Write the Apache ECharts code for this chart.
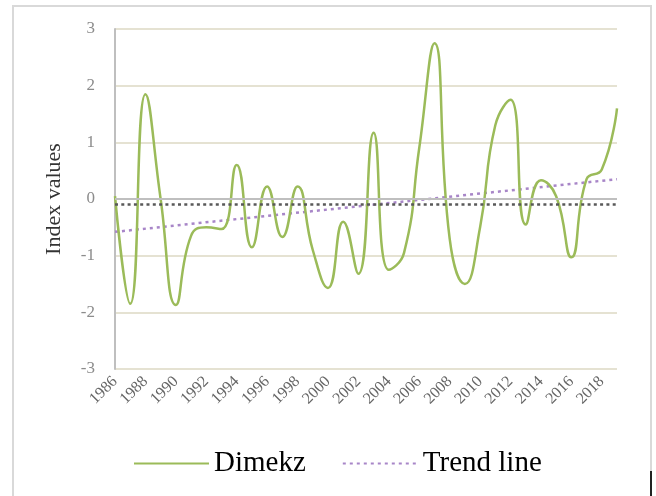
<!DOCTYPE html>
<html><head><meta charset="utf-8">
<script src="https://cdn.jsdelivr.net/npm/echarts@6/dist/echarts.min.js"></script>
<style>html,body{margin:0;padding:0;background:#fff}#c{width:656px;height:496px}</style>
</head><body><div id="c"></div>
<script>
var years = [];
for (var y = 1986; y <= 2019; y++) years.push(String(y));
var dimekz = [0.05, -1.85, 1.85, 0.0, -1.87, -0.65, -0.5, -0.53, 0.6, -0.85, 0.22, -0.67, 0.22, -0.9, -1.57, -0.4, -1.32, 1.17, -1.25, -0.95, 0.9, 2.75, -0.7, -1.5, -0.5, 1.3, 1.75, -0.45, 0.33, 0.05, -1.03, 0.35, 0.52, 1.6];
var trendEnds = [-0.58, 0.35];
var trend = years.map(function (_, i) { return i === 0 ? trendEnds[0] : (i === years.length - 1 ? trendEnds[1] : null); });
var meanLevel = -0.105;
var yTicks = { min: -3, max: 3, interval: 1 };

var chart = echarts.init(document.getElementById('c'));
var serif = '"Liberation Serif", "Times New Roman", serif';
chart.setOption({
  animation: false,
  backgroundColor: '#fff',
  graphic: [
    { type: 'rect', shape: { x: 13, y: 6, width: 638, height: 520 }, style: { fill: 'none', stroke: '#d9d9d9', lineWidth: 2 }, silent: true },
    { type: 'line', shape: { x1: 651, y1: 471, x2: 651, y2: 496 }, style: { stroke: '#222', lineWidth: 2 }, silent: true }
  ],
  grid: { left: 115, right: 39, top: 29, bottom: 127 },
  legend: {
    left: 128, top: 444,
    itemWidth: 75, itemHeight: 14, itemGap: 36,
    itemStyle: { opacity: 0 },
    textStyle: { fontFamily: serif, fontSize: 29, color: '#000' },
    data: ['Dimekz', 'Trend line']
  },
  xAxis: {
    type: 'category', data: years, boundaryGap: false,
    axisLine: { show: false }, axisTick: { show: false },
    axisLabel: { interval: 1, rotate: 45, margin: 10, fontFamily: serif, fontSize: 16, color: '#666' },
    splitLine: { show: false }
  },
  yAxis: {
    type: 'value', min: yTicks.min, max: yTicks.max, interval: yTicks.interval,
    name: 'Index values', nameLocation: 'middle', nameGap: 50,
    nameTextStyle: { fontFamily: serif, fontSize: 22, color: '#333' },
    axisLine: { show: true, lineStyle: { color: '#bfbfbf', width: 2 } },
    axisTick: { show: false },
    axisLabel: { margin: 20, fontFamily: serif, fontSize: 17, color: '#8c8c8c' },
    splitLine: { lineStyle: { color: '#ddd9c3', width: 1.5 } }
  },
  series: [
    {
      name: 'Dimekz', type: 'line', data: dimekz, smooth: 0.5, symbol: 'none',
      lineStyle: { color: '#9bbb59', width: 2.5 }, itemStyle: { color: '#9bbb59' }, z: 3,
      markLine: {
        silent: true, symbol: 'none', label: { show: false },
        data: [
          { yAxis: 0, lineStyle: { color: '#bfbfbf', width: 2, type: 'solid' } },
          { yAxis: meanLevel, lineStyle: { color: '#595959', width: 2.5, type: [3, 3.3] } }
        ]
      }
    },
    {
      name: 'Trend line', type: 'line', data: trend, connectNulls: true, symbol: 'none',
      lineStyle: { color: '#a886c8', width: 2.5, type: [3, 4] }, itemStyle: { color: '#a886c8' }, z: 2
    }
  ]
});
</script></body></html>
